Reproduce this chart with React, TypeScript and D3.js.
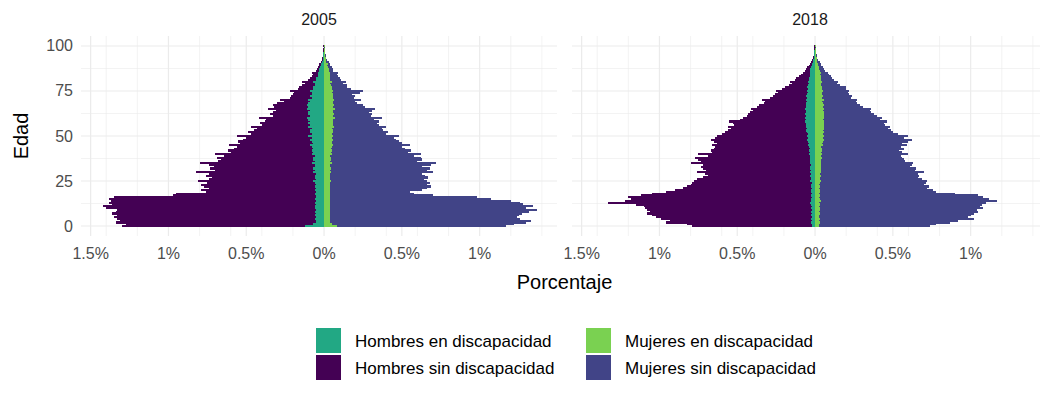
import * as d3 from "d3";

// Edad 0..100 (one bar per single year of age)
const ages = d3.range(0, 101);
const years = ["2005", "2018"];

// Porcentaje de la población (%)
const hombresSin2005 = [
  1.30, 1.27, 1.34, 1.31, 1.33, 1.35, 1.33, 1.36, 1.34, 1.33,
  1.40, 1.42, 1.36, 1.38, 1.37, 1.38, 1.35, 0.97, 0.95, 0.76,
  0.79, 0.74, 0.77, 0.79, 0.75, 0.81, 0.74, 0.72, 0.76, 0.74,
  0.82, 0.70, 0.73, 0.71, 0.74, 0.80, 0.68, 0.66, 0.69, 0.64,
  0.70, 0.60, 0.62, 0.58, 0.56, 0.61, 0.54, 0.55, 0.52, 0.50,
  0.56, 0.47, 0.49, 0.45, 0.43, 0.47, 0.40, 0.41, 0.38, 0.37,
  0.42, 0.33, 0.35, 0.33, 0.31, 0.36, 0.32, 0.33, 0.30, 0.26,
  0.28, 0.22, 0.21, 0.20, 0.19, 0.22, 0.17, 0.16, 0.14, 0.12,
  0.14, 0.10, 0.09, 0.08, 0.07, 0.08, 0.05, 0.045, 0.04, 0.03,
  0.03, 0.02, 0.015, 0.012, 0.01, 0.008, 0.006, 0.005, 0.004, 0.003,
  0.004,
];
const hombresEn2005 = [
  0.12, 0.07, 0.05, 0.05, 0.06, 0.05, 0.06, 0.05, 0.06, 0.05,
  0.06, 0.06, 0.05, 0.06, 0.05, 0.06, 0.05, 0.05, 0.06, 0.05,
  0.06, 0.05, 0.06, 0.05, 0.06, 0.07, 0.05, 0.06, 0.06, 0.05,
  0.07, 0.06, 0.07, 0.06, 0.06, 0.08, 0.06, 0.07, 0.07, 0.06,
  0.08, 0.07, 0.08, 0.07, 0.08, 0.09, 0.07, 0.08, 0.09, 0.08,
  0.10, 0.08, 0.09, 0.09, 0.08, 0.10, 0.09, 0.10, 0.09, 0.10,
  0.11, 0.09, 0.10, 0.10, 0.09, 0.11, 0.10, 0.11, 0.10, 0.09,
  0.10, 0.08, 0.09, 0.08, 0.08, 0.09, 0.07, 0.07, 0.06, 0.06,
  0.07, 0.05, 0.05, 0.04, 0.04, 0.04, 0.03, 0.03, 0.025, 0.02,
  0.02, 0.015, 0.01, 0.008, 0.006, 0.005, 0.004, 0.003, 0.002, 0.002,
  0.002,
];
const mujeresSin2005 = [
  1.17, 1.22, 1.30, 1.33, 1.26, 1.24, 1.25, 1.27, 1.32, 1.37,
  1.30, 1.34, 1.28, 1.26, 1.20, 1.07, 0.98, 0.70, 0.58, 0.55,
  0.63, 0.66, 0.69, 0.66, 0.68, 0.66, 0.64, 0.67, 0.65, 0.63,
  0.70, 0.66, 0.68, 0.63, 0.69, 0.72, 0.60, 0.63, 0.62, 0.58,
  0.62, 0.54, 0.56, 0.52, 0.50, 0.55, 0.50, 0.48, 0.46, 0.45,
  0.48, 0.40, 0.41, 0.38, 0.37, 0.40, 0.35, 0.34, 0.35, 0.32,
  0.37, 0.30, 0.31, 0.29, 0.31, 0.33, 0.26, 0.25, 0.21, 0.20,
  0.24, 0.19, 0.20, 0.18, 0.23, 0.25, 0.17, 0.15, 0.15, 0.12,
  0.14, 0.11, 0.10, 0.09, 0.08, 0.09, 0.06, 0.055, 0.05, 0.04,
  0.04, 0.03, 0.02, 0.015, 0.012, 0.01, 0.007, 0.006, 0.005, 0.004,
  0.005,
];
const mujeresEn2005 = [
  0.08, 0.05, 0.04, 0.04, 0.035, 0.04, 0.035, 0.04, 0.035, 0.04,
  0.04, 0.035, 0.04, 0.035, 0.04, 0.035, 0.04, 0.035, 0.04, 0.035,
  0.04, 0.035, 0.04, 0.035, 0.04, 0.045, 0.035, 0.04, 0.04, 0.035,
  0.045, 0.04, 0.045, 0.04, 0.04, 0.05, 0.04, 0.045, 0.045, 0.04,
  0.05, 0.045, 0.05, 0.045, 0.05, 0.055, 0.05, 0.05, 0.055, 0.05,
  0.06, 0.05, 0.055, 0.055, 0.05, 0.065, 0.055, 0.06, 0.06, 0.055,
  0.07, 0.06, 0.065, 0.06, 0.06, 0.07, 0.06, 0.065, 0.06, 0.055,
  0.065, 0.055, 0.06, 0.055, 0.05, 0.06, 0.05, 0.05, 0.045, 0.04,
  0.05, 0.04, 0.04, 0.035, 0.035, 0.04, 0.03, 0.03, 0.025, 0.02,
  0.025, 0.015, 0.012, 0.01, 0.008, 0.006, 0.005, 0.004, 0.003, 0.002,
  0.003,
];

const hombresSin2018 = [
  0.79, 0.82, 0.96, 0.93, 0.99, 1.02, 1.05, 1.08, 1.06, 1.08,
  1.09, 1.10, 1.15, 1.33, 1.22, 1.18, 1.20, 1.12, 1.05, 0.96,
  0.90, 0.85, 0.82, 0.80, 0.79, 0.78, 0.76, 0.72, 0.69, 0.71,
  0.76, 0.70, 0.72, 0.73, 0.72, 0.80, 0.73, 0.75, 0.77, 0.69,
  0.75, 0.66, 0.67, 0.65, 0.64, 0.66, 0.63, 0.65, 0.67, 0.64,
  0.63, 0.60, 0.58, 0.56, 0.54, 0.56, 0.52, 0.53, 0.55, 0.48,
  0.46, 0.44, 0.43, 0.42, 0.40, 0.41, 0.37, 0.36, 0.33, 0.32,
  0.34, 0.29, 0.27, 0.26, 0.24, 0.25, 0.21, 0.19, 0.17, 0.15,
  0.16, 0.13, 0.12, 0.10, 0.09, 0.08, 0.065, 0.055, 0.05, 0.04,
  0.035, 0.025, 0.02, 0.015, 0.012, 0.01, 0.008, 0.006, 0.005, 0.004,
  0.006,
];
const hombresEn2018 = [
  0.02, 0.02, 0.025, 0.02, 0.025, 0.02, 0.025, 0.02, 0.025, 0.02,
  0.025, 0.02, 0.025, 0.03, 0.025, 0.025, 0.02, 0.025, 0.02, 0.025,
  0.025, 0.02, 0.025, 0.025, 0.02, 0.03, 0.025, 0.025, 0.03, 0.025,
  0.03, 0.025, 0.03, 0.03, 0.025, 0.035, 0.03, 0.035, 0.035, 0.03,
  0.04, 0.035, 0.04, 0.035, 0.04, 0.045, 0.04, 0.045, 0.05, 0.045,
  0.05, 0.045, 0.05, 0.055, 0.05, 0.06, 0.055, 0.06, 0.065, 0.055,
  0.065, 0.06, 0.065, 0.06, 0.055, 0.065, 0.06, 0.055, 0.06, 0.05,
  0.06, 0.05, 0.055, 0.05, 0.045, 0.05, 0.045, 0.05, 0.045, 0.04,
  0.045, 0.04, 0.04, 0.035, 0.035, 0.035, 0.03, 0.03, 0.025, 0.02,
  0.02, 0.015, 0.012, 0.01, 0.008, 0.006, 0.005, 0.004, 0.003, 0.002,
  0.003,
];
const mujeresSin2018 = [
  0.74, 0.78, 0.87, 0.92, 1.02, 0.98, 1.00, 1.02, 1.05, 1.04,
  1.08, 1.06, 1.07, 1.10, 1.17, 1.12, 1.08, 1.05, 0.90, 0.78,
  0.76, 0.72, 0.73, 0.70, 0.71, 0.72, 0.69, 0.66, 0.67, 0.66,
  0.70, 0.64, 0.65, 0.61, 0.62, 0.63, 0.58, 0.57, 0.56, 0.55,
  0.60, 0.56, 0.54, 0.57, 0.55, 0.59, 0.56, 0.60, 0.62, 0.57,
  0.60, 0.53, 0.50, 0.49, 0.47, 0.48, 0.45, 0.44, 0.46, 0.42,
  0.43, 0.40, 0.38, 0.36, 0.35, 0.36, 0.31, 0.29, 0.27, 0.26,
  0.27, 0.23, 0.24, 0.22, 0.21, 0.22, 0.20, 0.20, 0.16, 0.14,
  0.15, 0.12, 0.11, 0.10, 0.09, 0.08, 0.065, 0.055, 0.05, 0.04,
  0.035, 0.03, 0.02, 0.015, 0.012, 0.01, 0.008, 0.006, 0.005, 0.004,
  0.006,
];
const mujeresEn2018 = [
  0.025, 0.025, 0.03, 0.025, 0.03, 0.025, 0.025, 0.03, 0.025, 0.03,
  0.03, 0.025, 0.03, 0.025, 0.035, 0.03, 0.025, 0.03, 0.025, 0.03,
  0.03, 0.025, 0.03, 0.025, 0.03, 0.035, 0.03, 0.03, 0.035, 0.03,
  0.035, 0.035, 0.04, 0.035, 0.035, 0.04, 0.035, 0.04, 0.045, 0.04,
  0.045, 0.04, 0.045, 0.045, 0.04, 0.05, 0.045, 0.05, 0.055, 0.05,
  0.055, 0.05, 0.055, 0.05, 0.055, 0.06, 0.055, 0.06, 0.055, 0.05,
  0.06, 0.055, 0.06, 0.055, 0.05, 0.06, 0.05, 0.055, 0.05, 0.045,
  0.055, 0.045, 0.05, 0.045, 0.045, 0.05, 0.045, 0.045, 0.04, 0.04,
  0.045, 0.035, 0.035, 0.035, 0.03, 0.035, 0.03, 0.025, 0.025, 0.02,
  0.02, 0.015, 0.012, 0.01, 0.008, 0.006, 0.005, 0.004, 0.003, 0.002,
  0.003,
];

const xTicks = [-1.5, -1, -0.5, 0, 0.5, 1];
const yTicks = [0, 25, 50, 75, 100];

const categories = [
  "Hombres en discapacidad",
  "Hombres sin discapacidad",
  "Mujeres en discapacidad",
  "Mujeres sin discapacidad",
];
const colors: Record<string, string> = {
  "Hombres en discapacidad": "#22A884",
  "Hombres sin discapacidad": "#440154",
  "Mujeres en discapacidad": "#7AD151",
  "Mujeres sin discapacidad": "#414487",
};

const seriesByYear: Record<string, Record<string, number[]>> = {
  "2005": {
    "Hombres sin discapacidad": hombresSin2005,
    "Hombres en discapacidad": hombresEn2005,
    "Mujeres sin discapacidad": mujeresSin2005,
    "Mujeres en discapacidad": mujeresEn2005,
  },
  "2018": {
    "Hombres sin discapacidad": hombresSin2018,
    "Hombres en discapacidad": hombresEn2018,
    "Mujeres sin discapacidad": mujeresSin2018,
    "Mujeres en discapacidad": mujeresEn2018,
  },
};

// draw order: outer (sin) first, disability on top
const drawOrder = [
  "Hombres sin discapacidad",
  "Mujeres sin discapacidad",
  "Hombres en discapacidad",
  "Mujeres en discapacidad",
];

const FONT = "'Liberation Sans', Arial, Helvetica, sans-serif";

function Panel({ year, left, width, top, height }: { year: string; left: number; width: number; top: number; height: number }) {
  const x = d3.scaleLinear().domain([-1.562, 1.497]).range([0, width]);
  const y = d3.scaleLinear().domain([-5.55, 105.55]).range([height, 0]);
  const bw = Math.abs(y(1) - y(0));
  const minorX = x.ticks(12).filter((t) => !xTicks.includes(t));
  const minorY = [12.5, 37.5, 62.5, 87.5];
  const series = seriesByYear[year];

  return (
    <g transform={`translate(${left},${top})`}>
      {minorX.map((t) => (
        <line key={"mx" + t} x1={x(t)} x2={x(t)} y1={0} y2={height} stroke="#EBEBEB" strokeWidth={0.6} />
      ))}
      {minorY.map((t) => (
        <line key={"my" + t} x1={0} x2={width} y1={y(t)} y2={y(t)} stroke="#EBEBEB" strokeWidth={0.6} />
      ))}
      {xTicks.map((t) => (
        <line key={"gx" + t} x1={x(t)} x2={x(t)} y1={0} y2={height} stroke="#EBEBEB" strokeWidth={1.2} />
      ))}
      {yTicks.map((t) => (
        <line key={"gy" + t} x1={0} x2={width} y1={y(t)} y2={y(t)} stroke="#EBEBEB" strokeWidth={1.2} />
      ))}
      {drawOrder.map((cat) => {
        const sign = cat.startsWith("Hombres") ? -1 : 1;
        return (
          <g key={cat} fill={colors[cat]} shapeRendering="crispEdges">
            {ages.map((a, i) => {
              const v = series[cat][i] * sign;
              const x0 = x(Math.min(0, v));
              const x1 = x(Math.max(0, v));
              return (
                <rect key={a} x={x0} y={y(a) - bw / 2 - 0.2} width={x1 - x0} height={bw + 0.4} />
              );
            })}
          </g>
        );
      })}
      <text x={width / 2} y={-11} textAnchor="middle" fontSize={16} fill="#1A1A1A" fontFamily={FONT}>
        {year}
      </text>
      {xTicks.map((t) => (
        <text key={"tx" + t} x={x(t)} y={height + 23} textAnchor="middle" fontSize={16} fill="#4D4D4D" fontFamily={FONT}>
          {`${Math.abs(t)}%`}
        </text>
      ))}
    </g>
  );
}

export default function App() {
  const W = 1040;
  const H = 397;
  const panelTop = 36;
  const panelH = 200;
  const panelW = 476;
  const p1Left = 81;
  const gap = 15;
  const p2Left = p1Left + panelW + gap;
  const yAxis = d3.scaleLinear().domain([-5.55, 105.55]).range([panelTop + panelH, panelTop]);
  const legendX = [316, 586];
  const legendY = [328, 355];
  const key = 25;

  return (
    <svg width={W} height={H} style={{ position: "absolute", left: 0, top: 0, background: "#fff" }}>
      <rect width={W} height={H} fill="#fff" />
      {years.map((yr, i) => (
        <Panel key={yr} year={yr} left={i === 0 ? p1Left : p2Left} width={panelW} top={panelTop} height={panelH} />
      ))}
      {yTicks.map((t) => (
        <text key={t} x={73} y={yAxis(t) + 5.5} textAnchor="end" fontSize={16} fill="#4D4D4D" fontFamily={FONT}>
          {t}
        </text>
      ))}
      <text
        transform={`translate(28,${panelTop + panelH / 2}) rotate(-90)`}
        textAnchor="middle"
        fontSize={20}
        fill="#000"
        fontFamily={FONT}
      >
        Edad
      </text>
      <text x={(p1Left + p2Left + panelW) / 2} y={289} textAnchor="middle" fontSize={20} fill="#000" fontFamily={FONT}>
        Porcentaje
      </text>
      {categories.map((cat, i) => {
        const col = Math.floor(i / 2);
        const row = i % 2;
        const kx = legendX[col];
        const ky = legendY[row];
        return (
          <g key={cat}>
            <rect x={kx} y={ky} width={key} height={key} fill={colors[cat]} />
            <text x={kx + key + 14} y={ky + key / 2 + 6} fontSize={17} fill="#000" fontFamily={FONT}>
              {cat}
            </text>
          </g>
        );
      })}
    </svg>
  );
}
